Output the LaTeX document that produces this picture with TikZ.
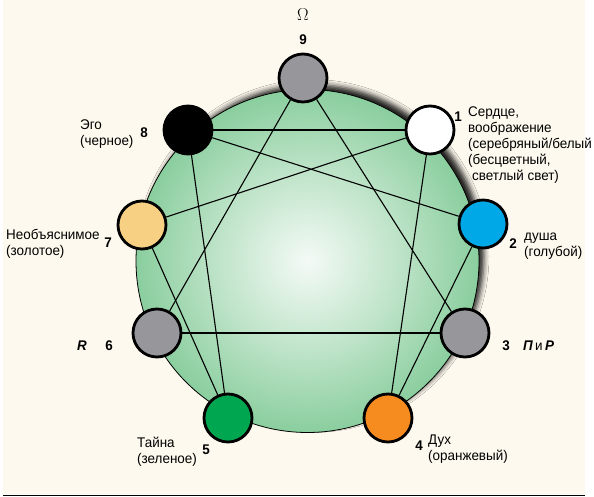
\documentclass[tikz,border=0pt]{standalone}
\usepackage{fontspec}
\usetikzlibrary{shadows.blur}

\newfontfamily\lblfont[FakeStretch=0.96]{Liberation Sans}

\definecolor{paper}{HTML}{FEF9EE}
\definecolor{discmid}{HTML}{F4FAF6}
\definecolor{discmid2}{HTML}{BFE4C9}
\definecolor{discrim}{HTML}{8ACE9E}
\definecolor{stone}{HTML}{96969B}
\definecolor{sky}{HTML}{00A8E8}
\definecolor{amber}{HTML}{F68B1F}
\definecolor{leaf}{HTML}{00A650}
\definecolor{gold}{HTML}{F7D083}

\pgfdeclareradialshading{discglow}{\pgfpointorigin}{color(0bp)=(discmid); color(13bp)=(discmid2); color(25bp)=(discrim); color(50bp)=(discrim)}

\begin{document}
\begin{tikzpicture}[x=1pt,y=1pt,yscale=-1,xscale=1,
	point/.style={circle, draw=black, line width=2.8pt, minimum size=48pt, inner sep=0pt},
	bigdisc/.style={circle, draw=black, line width=0.8pt, minimum size=343pt, inner sep=0pt,
		shading=discglow,
		blur shadow={shadow xshift=5pt, shadow yshift=5pt, shadow blur radius=5pt, shadow opacity=85}},
	num/.style={font=\lblfont\fontsize{14}{16}\selectfont\bfseries, inner sep=0pt},
	lbl/.style={font=\lblfont\fontsize{14}{16}\selectfont, anchor=north west, inner sep=0pt, align=left},
	link/.style={line width=1.1pt},
	flat/.style={line width=1.5pt}]
		% Set diagram size: 594 x 497
		\useasboundingbox (0,0) rectangle (594,497);

		% Paper background and the rule at the bottom
		\fill[paper] (3,0) rectangle (585,494);
		\draw[line width=1.4pt] (3,495.5) -- (585,495.5);

		% The big green disc
		\node[bigdisc] (disc) at (307.5,261) {};

		% The nine points
		\node[point, fill=stone] (n9) at (303,78) {};
		\node[point, fill=white] (n1) at (430,130) {};
		\node[point, fill=sky] (n2) at (483,224) {};
		\node[point, fill=stone] (n3) at (465,333) {};
		\node[point, fill=amber] (n4) at (388,418) {};
		\node[point, fill=leaf] (n5) at (228,418) {};
		\node[point, fill=stone] (n6) at (157,333) {};
		\node[point, fill=gold] (n7) at (142,225) {};
		\node[point, fill=black] (n8) at (188,130) {};

		% The lines between the points
		\draw[flat] (n8) -- (n1);
		\draw[flat] (n6) -- (n3);
		\draw[link] (n9) -- (n3);
		\draw[link] (n9) -- (n6);
		\draw[link] (n1) -- (n4);
		\draw[link] (n4) -- (n2);
		\draw[link] (n2) -- (n8);
		\draw[link] (n8) -- (n5);
		\draw[link] (n5) -- (n7);
		\draw[link] (n7) -- (n1);

		% The numbers
		\node[num] (num9) at (303,40) {9};
		\node[num] (num1) at (458,117) {1};
		\node[num] (num2) at (513,244) {2};
		\node[num] (num3) at (506,346) {3};
		\node[num] (num4) at (419,446) {4};
		\node[num] (num5) at (206,450) {5};
		\node[num] (num6) at (109,346) {6};
		\node[num] (num7) at (108,243) {7};
		\node[num] (num8) at (144,133) {8};

		% The texts
		\node[inner sep=0pt] (omega) at (303,15) {\fontsize{18}{18}\selectfont$\Omega$};
		\node[lbl] (heart) at (468,107) {Сердце,\\воображение\\(серебряный/белый\\(бесцветный,\\\hspace{4pt}светлый свет)};
		\node[lbl] (soul) at (524,233) {душа\\(голубой)};
		\node[num, anchor=west] (pr) at (523,346) {\itshape П\,{\mdseries\upshape и}\,Р};
		\node[lbl] (spirit) at (428,435) {Дух\\(оранжевый)};
		\node[lbl] (mystery) at (137,437) {Тайна\\(зеленое)};
		\node[num] (rr) at (82,346) {\itshape R};
		\node[lbl] (unexpl) at (6,229) {Необъяснимое\\(золотое)};
		\node[lbl] (ego) at (80,120) {Эго\\(черное)};
	\end{tikzpicture}
\end{document}
